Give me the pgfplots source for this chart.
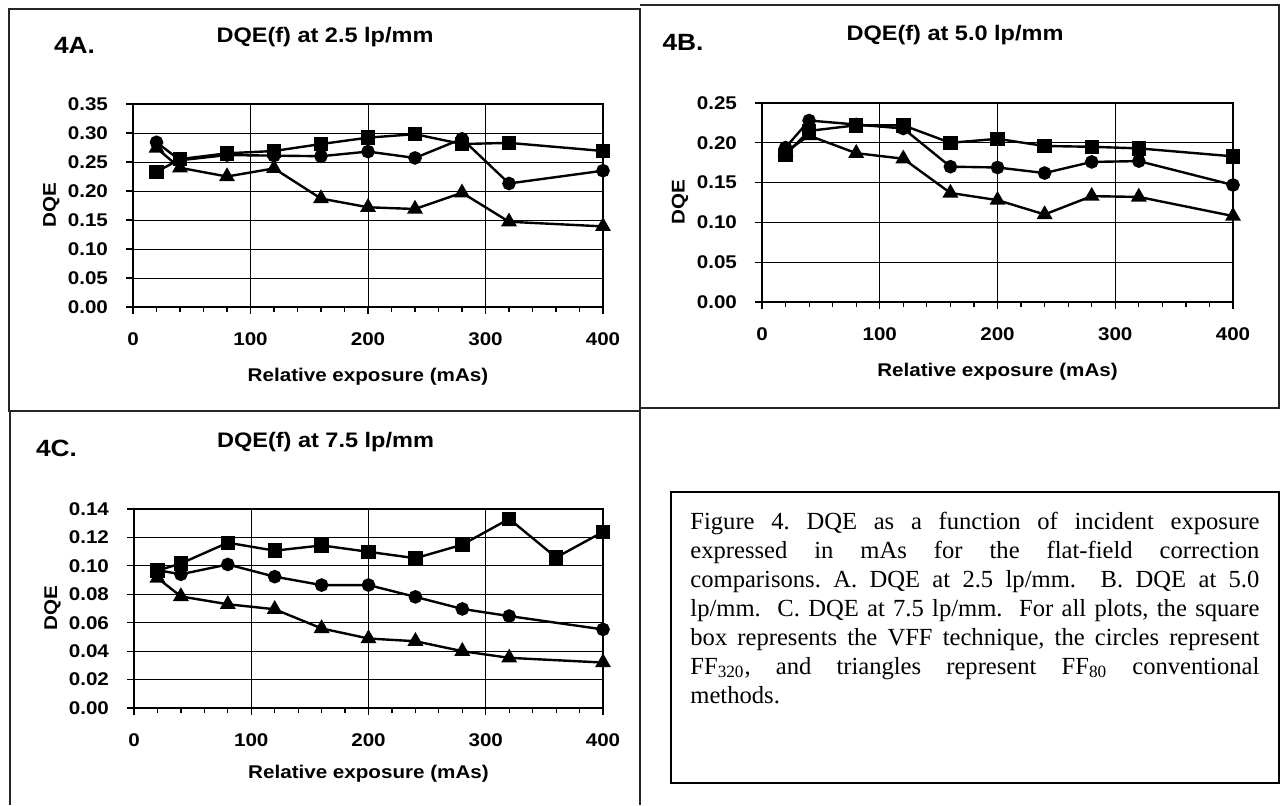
\documentclass[border=0pt]{standalone}
\usepackage{fontspec}
\setmainfont{Liberation Serif}
\newfontfamily\af[FakeStretch=1.12]{Liberation Sans}
\usepackage{pgfplots}
\pgfplotsset{compat=1.18}

\pgfplotsset{
  dqe/.style={
    scale only axis, anchor=south west,
    xmin=0, xmax=400, xtick={0,100,200,300,400}, minor x tick num=4,
    xtick pos=bottom, ytick pos=left,
    tick align=outside, major tick length=3.5pt, minor tick length=2.5pt,
    tick style={black, line width=0.6pt},
    xmajorgrids, ymajorgrids,
    grid style={black, line width=0.4pt},
    axis line style={line width=0.9pt},
    ticklabel style={font=\af\bfseries\fontsize{9.2}{10}\selectfont},
    /pgf/number format/assume math mode=true,
    yticklabel style={/pgf/number format/.cd, fixed, fixed zerofill, precision=2},
    xticklabel shift=6pt, yticklabel shift=5.5pt,
    xlabel={Relative exposure (mAs)}, ylabel={DQE},
    label style={font=\af\bfseries\fontsize{9.2}{10}\selectfont},
    every axis y label/.style={at={(axis description cs:-0.174,0.5)}, rotate=90,
      anchor=center, font=\af\bfseries\fontsize{9.2}{10}\selectfont},
    every axis plot/.append style={black, line width=1.2pt},
  },
  sq/.style={mark=square*, mark size=3pt},
  ci/.style={mark=*, mark size=2.8pt},
  tr/.style={mark=triangle*, mark size=3.4pt},
}

\begin{document}
\begin{tikzpicture}
\path[use as bounding box] (0,0) rectangle (641.5pt,-402.5pt);

% panel frames
\draw[line width=0.7pt, black!85] (4.5pt,-4.5pt) rectangle (320pt,-205.5pt);
\draw[line width=0.7pt, black!85] (320pt,-2.5pt) -- (639.5pt,-2.5pt) -- (639.5pt,-204pt) -- (320pt,-204pt);
\draw[line width=0.7pt, black!85] (5pt,-205.5pt) -- (5pt,-402.5pt);
\draw[line width=0.7pt, black!85] (320pt,-205.5pt) -- (320pt,-402.5pt);

% panel labels and titles
\node[font=\af\bfseries\fontsize{11.75}{13}\selectfont] at (37.25pt,-22.5pt) {4A.};
\node[font=\af\bfseries\fontsize{10.5}{12}\selectfont] at (162.5pt,-18.5pt) {DQE(f) at 2.5 lp/mm};
\node[font=\af\bfseries\fontsize{11.75}{13}\selectfont] at (341.5pt,-21pt) {4B.};
\node[font=\af\bfseries\fontsize{10.5}{12}\selectfont] at (477.5pt,-17.5pt) {DQE(f) at 5.0 lp/mm};
\node[font=\af\bfseries\fontsize{11.75}{13}\selectfont] at (28.25pt,-224pt) {4C.};
\node[font=\af\bfseries\fontsize{10.5}{12}\selectfont] at (162.75pt,-221pt) {DQE(f) at 7.5 lp/mm};

% 4A
\begin{axis}[dqe, at={(66.5pt,-153.5pt)}, width=235pt, height=101.5pt,
  ymin=0, ymax=0.35, ytick={0,0.05,0.1,0.15,0.2,0.25,0.3,0.35},
  xlabel style={at={(axis description cs:0.5,0)}, anchor=center, yshift=-35pt}]
\addplot[sq] coordinates {(20,0.233)(40,0.255)(80,0.265)(120,0.269)(160,0.281)(200,0.292)(240,0.298)(280,0.281)(320,0.283)(400,0.269)};
\addplot[ci] coordinates {(20,0.284)(40,0.253)(80,0.262)(120,0.261)(160,0.260)(200,0.268)(240,0.257)(280,0.290)(320,0.213)(400,0.235)};
\addplot[tr] coordinates {(20,0.274)(40,0.240)(80,0.225)(120,0.239)(160,0.187)(200,0.172)(240,0.169)(280,0.197)(320,0.147)(400,0.139)};
\end{axis}

% 4B
\begin{axis}[dqe, at={(381pt,-151pt)}, width=235.5pt, height=99.5pt,
  ymin=0, ymax=0.25, ytick={0,0.05,0.1,0.15,0.2,0.25},
  xlabel style={at={(axis description cs:0.5,0)}, anchor=center, yshift=-35pt}]
\addplot[sq] coordinates {(20,0.185)(40,0.215)(80,0.222)(120,0.222)(160,0.200)(200,0.205)(240,0.196)(280,0.195)(320,0.193)(400,0.183)};
\addplot[ci] coordinates {(20,0.194)(40,0.228)(80,0.223)(120,0.218)(160,0.170)(200,0.169)(240,0.162)(280,0.176)(320,0.177)(400,0.147)};
\addplot[tr] coordinates {(20,0.189)(40,0.209)(80,0.187)(120,0.180)(160,0.137)(200,0.128)(240,0.110)(280,0.133)(320,0.132)(400,0.108)};
\end{axis}

% 4C
\begin{axis}[dqe, at={(67pt,-354pt)}, width=234.5pt, height=99.5pt,
  ymin=0, ymax=0.14, ytick={0,0.02,0.04,0.06,0.08,0.1,0.12,0.14},
  xlabel style={at={(axis description cs:0.5,0)}, anchor=center, yshift=-33pt}]
\addplot[sq] coordinates {(20,0.0967)(40,0.1017)(80,0.1163)(120,0.1107)(160,0.1144)(200,0.1099)(240,0.1054)(280,0.1149)(320,0.1331)(360,0.1059)(400,0.1239)};
\addplot[ci] coordinates {(20,0.0970)(40,0.0941)(80,0.1010)(120,0.0924)(160,0.0865)(200,0.0865)(240,0.0782)(280,0.0697)(320,0.0647)(400,0.0553)};
\addplot[tr] coordinates {(20,0.0915)(40,0.0785)(80,0.0730)(120,0.0695)(160,0.0560)(200,0.0489)(240,0.0470)(280,0.0400)(320,0.0353)(400,0.0320)};
\end{axis}

% caption box
\draw[line width=1pt] (335.5pt,-246pt) rectangle (639.5pt,-391.5pt);
\node[anchor=north west, inner sep=0pt, text width=284.5pt, align=justify,
      font=\frenchspacing\fontsize{12.3}{14.5}\selectfont] at (345pt,-255.8pt)
{Figure 4. DQE as a function of incident exposure\linebreak
expressed in mAs for the flat-field correction\linebreak
comparisons. A. DQE at 2.5 lp/mm.\ \ B. DQE at 5.0\linebreak
lp/mm.\ \ C. DQE at 7.5 lp/mm.\ \ For all plots, the square\linebreak
box represents the VFF technique, the circles represent\linebreak
FF\textsubscript{320}, and triangles represent FF\textsubscript{80} conventional\linebreak
methods.};
\end{tikzpicture}
\end{document}
